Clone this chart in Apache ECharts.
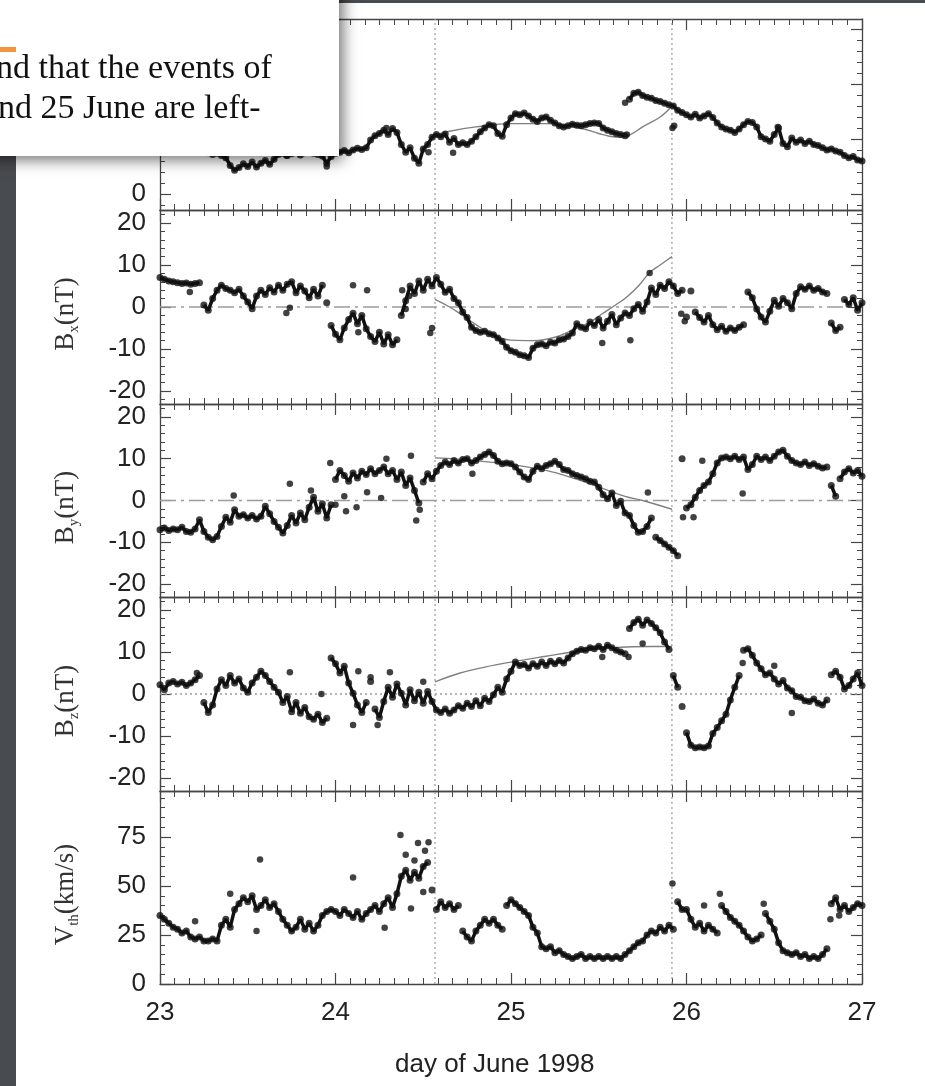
<!DOCTYPE html>
<html><head><meta charset="utf-8">
<script src="https://cdn.jsdelivr.net/npm/echarts@6/dist/echarts.min.js"></script>
<style>html,body{margin:0;padding:0;background:#fff;overflow:hidden}#c{width:925px;height:1086px}</style>
</head><body><div id="c"></div>
<script>
// sampling of the measured series: start day and cadence (days)
const T0 = 23, DT = 0.025;
const xTickLabels = [23, 24, 25, 26, 27];
const eventBounds = [24.567, 25.917];

const absB = [
 8.5, 8.8, 9.0, 8.6, 8.2, 8.4, 8.0, 7.8, 8.2, 7.6,
 7.8, 7.5, 7.2, 7.4, 7.0, 6.6, 5.2, 4.3, 4.8, 5.5,
 5.0, 5.8, 4.9, 5.6, 6.1, 5.4, 6.3, 7.2, 7.4, 7.0,
 7.3, 7.6, 7.1, 7.5, 7.8, 7.4, 7.2, 6.9, 5.6, 6.8,
 7.4, 7.6, 7.9, 7.5, 8.0, 8.3, 8.1, 8.4, 9.8, 10.6,
 11.0, 11.6, 10.8, 11.9, 11.2, 9.0, 7.6, 8.4, 6.5, 5.6,
 8.2, 9.0, 10.3, 10.8, 10.4, 10.9, 9.4, 10.1, 9.0, 9.3,
 9.0, 9.6, 10.4, 11.3, 12.0, 12.6, 12.4, 11.0, 10.5, 12.6,
 13.8, 14.6, 14.4, 14.7, 14.2, 13.6, 13.2, 13.8, 14.0, 13.4,
 12.9, 12.4, 12.2, 12.4, 12.7, 12.5, 12.4, 12.6, 12.8, 12.9,
 12.8, 12.0, 11.6, 11.3, 11.0, 10.8, 10.6, 17.2, 18.3, 18.5,
 17.9, 17.6, 17.4, 17.0, 16.8, 16.5, 16.2, 16.0, 15.2, 14.8,
 14.4, 14.0, 14.5, 13.8, 14.2, 14.6, 13.9, 12.9, 12.2, 11.8,
 11.6, 11.2, 11.8, 12.6, 13.2, 13.0, 12.2, 10.4, 10.0, 9.6,
 10.8, 12.0, 9.2, 8.6, 10.2, 9.4, 9.8, 9.2, 9.6, 9.0,
 8.8, 8.4, 8.0, 8.2, 7.8, 7.6, 7.0, 6.6, 6.8, 6.2,
 6.0];
const Bx = [
 7.0, 6.6, 6.2, 6.0, 5.8, 5.6, 5.7, 5.4, 5.6, 5.8,
 0.5, -0.8, 2.0, 4.0, 5.2, 4.4, 4.0, 3.4, 4.2, 2.6,
 1.2, -0.4, 2.6, 4.0, 3.0, 4.6, 3.6, 5.2, 4.0, 5.4,
 6.0, 3.4, 5.0, 3.8, 2.2, 4.2, 2.6, 5.2, 1.0, -4.4,
 -6.5, -7.8, -5.0, -3.0, -1.5, -4.0, -2.0, -5.2, -7.0, -8.2,
 -6.0, -8.8, -6.6, -9.0, -7.8, -2.0, 1.5, 5.0, 3.2, 6.2,
 4.0, 6.6, 5.0, 7.0, 5.4, 3.5, 4.2, 2.0, 1.0, -1.2,
 -2.5, -4.8, -5.6, -6.0, -5.8, -6.4, -6.6, -7.4, -8.2, -9.6,
 -10.4, -10.8, -11.4, -11.6, -12.0, -9.8, -9.0, -8.8, -9.2, -8.4,
 -8.6, -7.8, -7.6, -7.0, -6.2, -4.0, -4.8, -5.2, -3.6, -4.4,
 -3.0, -5.0, -3.4, -1.8, -4.2, -2.6, -1.4, -2.0, -0.4, 0.6,
 -1.0, 1.2, 4.5, 3.0, 5.2, 4.4, 6.0, 5.0, 3.2, 4.0,
 -2.4, 3.8, -1.2, -2.5, -3.6, -2.0, -4.2, -5.4, -4.6, -5.8,
 -5.0, -5.6, -4.8, -4.2, 3.6, 2.2, -0.5, -2.4, -3.6, -1.0,
 1.6, 0.2, 2.0, 1.0, -0.4, 3.2, 4.8, 4.2, 5.0, 4.0,
 4.4, 3.6, 3.2, -3.8, -5.6, -4.8, 1.8, 0.6, 2.2, -0.8,
 1.0];
const By = [
 -7.0, -6.6, -7.2, -6.8, -7.0, -6.4, -7.4, -7.6, -6.8, -4.6,
 -7.4, -8.8, -9.4, -8.6, -6.2, -4.0, -5.2, -2.2, -3.8, -3.4,
 -4.2, -3.6, -4.4, -3.8, -1.4, -3.2, -5.0, -6.4, -7.8, -6.0,
 -3.6, -5.4, -3.0, -4.6, -1.6, 0.8, -2.6, -0.8, -4.2, -1.0,
 5.0, 7.2, 6.0, 4.6, 6.6, 5.4, 7.0, 6.2, 7.6, 6.4,
 7.2, 8.0, 6.4, 7.2, 5.0, 6.8, 3.6, 5.4, 2.4, -0.6,
 4.4, 6.4, 5.2, 7.0, 8.4, 9.2, 8.6, 9.6, 9.0, 9.8,
 10.0, 9.0, 9.6, 10.4, 11.0, 11.6, 10.8, 9.4, 8.8, 9.0,
 8.8, 8.0, 6.8, 5.6, 5.0, 7.0, 8.2, 7.6, 8.4, 8.8,
 9.4, 8.6, 7.4, 7.2, 6.4, 6.0, 5.6, 5.2, 4.6, 4.4,
 3.2, 1.4, 0.4, 1.8, -1.2, -0.2, -3.0, -3.6, -6.0, -7.6,
 -7.4, -6.2, -4.2, -8.8, -9.6, -10.4, -11.2, -12.0, -13.2, 10.0,
 -1.8, -1.0, 0.8, 2.4, 3.6, 4.4, 6.4, 9.0, 10.2, 10.4,
 10.0, 10.6, 9.8, 10.4, 7.4, 8.6, 10.6, 9.8, 10.4, 9.6,
 10.6, 11.6, 12.0, 10.6, 9.6, 9.0, 8.6, 9.2, 8.4, 8.8,
 8.2, 7.8, 8.0, 3.6, 1.0, 5.2, 6.8, 7.6, 6.6, 7.2,
 5.8];
const Bz = [
 2.2, 1.0, 2.6, 3.0, 2.4, 2.8, 2.0, 2.6, 3.4, 4.4,
 -2.0, -4.4, -2.6, 1.2, 3.4, 2.0, 4.4, 2.6, 3.6, 1.4,
 0.4, 2.6, 4.0, 5.4, 4.4, 3.0, 1.6, 0.4, -2.0, -0.6,
 -4.2, -2.0, -4.6, -3.2, -5.4, -6.0, -4.8, -6.8, -5.8, 8.6,
 7.2, 5.0, 6.6, 2.6, 0.2, -2.6, -4.4, -2.0, 3.0, -3.6,
 -5.6, -1.8, 1.6, -0.8, 2.4, 0.2, -2.6, 1.0, -1.6, 0.4,
 -2.2, 0.6, -1.8, -3.8, -4.4, -3.6, -4.6, -3.8, -2.8, -3.4,
 -2.2, -3.0, -1.6, -2.8, -1.0, -1.8, -0.2, 1.6, 0.4, 3.6,
 5.4, 7.6, 6.8, 7.0, 6.2, 7.2, 6.6, 7.6, 6.8, 7.8,
 7.2, 8.0, 7.4, 8.6, 9.6, 10.2, 10.6, 10.4, 11.0, 10.8,
 11.4, 10.6, 11.6, 11.0, 10.4, 10.0, 9.6, 15.6, 17.0, 17.8,
 16.4, 17.6, 16.8, 15.8, 14.6, 12.4, 10.6, 4.4, 1.6, -3.0,
 -9.2, -12.2, -12.8, -12.6, -12.8, -12.4, -9.4, -8.0, -6.4, -4.8,
 -1.4, 1.6, 4.4, 10.4, 10.8, 9.2, 7.4, 6.0, 4.6, 5.0,
 3.6, 2.4, 3.2, 1.4, 0.8, -0.6, -0.8, -1.6, -1.8, -1.2,
 -2.2, -2.6, -1.4, 4.6, 5.4, 4.0, 1.2, 2.0, 3.6, 5.0,
 2.0];
const Vth = [
 35, 33, 31, 29, 28, 26, 27, 24, 23, 24,
 22, 22, 23, 22, 30, 33, 29, 38, 41, 44,
 42, 45, 38, 40, 43, 39, 41, 37, 33, 30,
 27, 29, 33, 28, 31, 27, 30, 35, 37, 38,
 37, 35, 38, 36, 34, 37, 33, 36, 38, 40,
 37, 41, 44, 39, 46, 55, 58, 53, 57, 54,
 60, 62, 48, 38, 42, 39, 41, 38, 40, 27,
 24, 22, 27, 30, 33, 31, 33, 30, 28, 40,
 43, 41, 39, 37, 35, 29, 26, 19, 18, 19,
 16, 17, 15, 14, 13, 14, 15, 13, 14, 13,
 14, 13, 14, 13, 14, 13, 15, 17, 19, 21,
 22, 25, 27, 26, 29, 27, 30, 28, 42, 38,
 38, 33, 29, 31, 27, 30, 28, 26, 40, 37,
 34, 32, 30, 27, 24, 22, 23, 25, 36, 32,
 28, 21, 17, 16, 15, 16, 14, 15, 13, 14,
 13, 15, 18, 41, 44, 38, 40, 37, 39, 41,
 40];

// isolated points off the main trace [day, value]
const extraB = [[23.72,7.0],[23.95,5.0],[24.29,12.0],[24.53,7.6],[24.67,7.5],[25.66,10.8],[25.65,16.6],[25.92,12.0],[25.93,12.4],[26.52,12.2]];
const extraBx = [[23.17,3.6],[23.72,-1.4],[23.74,-0.2],[24.1,5.2],[24.18,4.0],[24.13,-6.0],[24.38,4.0],[24.4,-0.5],[24.42,2.6],[24.54,-6.2],[24.55,-5.0],[25.52,-8.6],[25.68,-7.9],[25.79,8.1],[25.97,-1.6],[25.99,-3.4]];
const extraBy = [[23.42,1.2],[23.74,4.0],[23.86,2.4],[23.97,9.0],[24.0,-1.0],[24.05,1.0],[24.06,-2.6],[24.12,-1.6],[24.18,2.0],[24.26,0.6],[24.29,10.0],[24.43,10.7],[24.46,-4.8],[24.48,-2.2],[24.78,6.4],[25.78,1.9],[25.98,-4.0],[26.04,-4.0],[26.09,9.5],[26.32,1.7]];
const extraBz = [[23.21,5.0],[23.74,5.2],[23.92,0.0],[24.1,-7.4],[24.24,-7.4],[24.13,5.4],[24.31,5.2],[24.2,4.0],[24.5,2.9],[25.52,8.8],[25.67,8.8],[25.75,12.0],[26.32,7.4],[26.5,6.7],[26.6,-4.5]];
const extraV = [[23.2,32],[23.4,46],[23.55,27],[23.57,63.6],[24.1,54.4],[24.28,28.7],[24.37,76],[24.47,71.9],[24.53,72.4],[24.43,38.5],[24.4,66],[24.45,63],[24.5,47],[24.51,68],[25.92,51.3],[26.1,40],[26.19,46],[26.44,41],[26.82,33],[26.87,35]];

// fitted model curves [day, value]
const fitB = [[24.567,10.7],[24.65,11.4],[24.8,12.2],[25.0,12.8],[25.2,12.8],[25.39,12.0],[25.5,11.0],[25.56,10.5],[25.62,10.3],[25.68,10.8],[25.75,12.2],[25.85,14.0],[25.917,16.0]];
const fitBx = [[24.567,1.8],[24.65,0.0],[24.71,-1.6],[24.8,-4.2],[24.9,-6.6],[25.0,-7.9],[25.13,-8.0],[25.25,-7.2],[25.35,-5.5],[25.45,-3.6],[25.52,-1.6],[25.6,0.6],[25.66,2.4],[25.73,5.2],[25.79,8.2],[25.85,10.0],[25.917,12.0]];
const fitBy = [[24.567,10.2],[24.7,9.9],[24.85,9.3],[25.0,8.6],[25.2,7.2],[25.35,5.4],[25.52,2.9],[25.65,1.0],[25.75,0.0],[25.917,-2.1]];
const fitBz = [[24.567,2.9],[24.71,5.0],[24.85,6.4],[25.0,7.6],[25.2,9.0],[25.35,10.0],[25.5,10.7],[25.66,11.2],[25.8,11.3],[25.917,11.3]];

const yLabelsB = [0, 10, 20, 30];
const yLabelsField = [-20, -10, 0, 10, 20];
const yLabelsV = [0, 25, 50, 75];

function steps(a, b, s) { const r = []; for (let v = a; v <= b + 1e-9; v += s) r.push(v); return r; }

const panels = [
  { vals: absB, extra: extraB, fit: fitB, min: -2.9, max: 31.8, major: yLabelsB, minor: steps(-2, 30, 2), zero: null, name: '', jump: 3 },
  { vals: Bx, extra: extraBx, fit: fitBx, min: -23.1, max: 23.1, major: yLabelsField, minor: steps(-22, 22, 2), zero: 'dashdot', name: '{a|B}{s|x}{a|(nT)}', jump: 4 },
  { vals: By, extra: extraBy, fit: fitBy, min: -23.1, max: 23.1, major: yLabelsField, minor: steps(-22, 22, 2), zero: 'dashdot', name: '{a|B}{s|y}{a|(nT)}', jump: 4 },
  { vals: Bz, extra: extraBz, fit: fitBz, min: -23.1, max: 23.1, major: yLabelsField, minor: steps(-22, 22, 2), zero: 'dot', name: '{a|B}{s|z}{a|(nT)}', jump: 4 },
  { vals: Vth, extra: extraV, fit: null, min: 0, max: 98.5, major: yLabelsV, minor: steps(0, 95, 5), zero: null, name: '{a|V}{s|th}{a|(km/s)}', jump: 9 }
];
const gridPos = [[19,191],[210,194],[404,193],[597,194],[791,193]];

const AX = '#454545';
const SANS = 'Liberation Sans, Arial, sans-serif';
const SERIF = 'Liberation Serif, Times New Roman, serif';
const grid = [], xAxis = [], yAxis = [], series = [];

panels.forEach((p, k) => {
  grid.push({ left: 160, width: 702, top: gridPos[k][0], height: gridPos[k][1] });
  ['bottom', 'top'].forEach(pos => {
    xAxis.push({
      type: 'value', gridIndex: k, position: pos, min: 23, max: 27, interval: 1,
      axisLine: { show: true, onZero: false, lineStyle: { color: AX, width: 1.3 } },
      axisTick: { show: true, inside: true, length: 11, lineStyle: { color: AX, width: 1.2 } },
      minorTick: { show: true, splitNumber: 12, length: 6, lineStyle: { color: AX, width: 1 } },
      axisLabel: { show: (k === 4 && pos === 'bottom'), customValues: xTickLabels, fontSize: 26, color: '#222', fontFamily: SANS, margin: 16 },
      splitLine: { show: false }, minorSplitLine: { show: false }
    });
  });
  ['left', 'right'].forEach(pos => {
    yAxis.push({
      type: 'value', gridIndex: k, position: pos, min: p.min, max: p.max,
      axisLine: { show: true, onZero: false, lineStyle: { color: AX, width: 1.3 } },
      axisTick: { show: true, inside: true, length: 11, customValues: p.major, lineStyle: { color: AX, width: 1.2 } },
      axisLabel: { show: pos === 'left', customValues: p.major, fontSize: 26, color: '#222', fontFamily: SANS, margin: 14 },
      splitLine: { show: false },
      name: pos === 'left' ? p.name : '', nameLocation: 'middle', nameRotate: 90, nameGap: 78,
      nameTextStyle: { color: '#333', fontFamily: SERIF, padding: [0, 14, 0, 0], rich: {
        a: { fontSize: 27, fontFamily: SERIF, color: '#333', lineHeight: 32 },
        s: { fontSize: 15, fontFamily: SERIF, color: '#333', verticalAlign: 'bottom', lineHeight: 14 } } }
    });
    yAxis.push({
      type: 'value', gridIndex: k, position: pos, min: p.min, max: p.max,
      axisLine: { show: false },
      axisTick: { show: true, inside: true, length: 5, customValues: p.minor, lineStyle: { color: AX, width: 1 } },
      axisLabel: { show: false }, splitLine: { show: false }
    });
  });
  const xi = 2 * k, yi = 4 * k;
  eventBounds.forEach(xb => series.push({
    type: 'line', xAxisIndex: xi, yAxisIndex: yi, data: [[xb, p.min], [xb, p.max]], showSymbol: false, silent: true, z: 1,
    lineStyle: { color: '#9a9a9a', width: 1.2, type: [2, 3] }
  }));
  if (p.zero) series.push({
    type: 'line', xAxisIndex: xi, yAxisIndex: yi, data: [[23, 0], [27, 0]], showSymbol: false, silent: true, z: 1,
    lineStyle: { color: '#9c9c9c', width: 1.4, type: p.zero === 'dot' ? [2, 3] : [16, 5, 3, 5] }
  });
  const pts = p.vals.map((v, i) => [T0 + i * DT, v]);
  // chain joining consecutive samples, broken at large jumps
  const chain = [];
  pts.forEach((q, i) => {
    if (i > 0 && Math.abs(q[1] - pts[i - 1][1]) > p.jump) chain.push([q[0] - DT / 2, '-']);
    chain.push(q);
  });
  series.push({
    type: 'line', xAxisIndex: xi, yAxisIndex: yi, data: chain, showSymbol: false, connectNulls: false, z: 3,
    lineStyle: { color: '#111', width: 3.5 }
  });
  series.push({
    type: 'scatter', xAxisIndex: xi, yAxisIndex: yi, symbolSize: 7, z: 3,
    itemStyle: { color: '#111' }, data: pts
  });
  series.push({
    type: 'scatter', xAxisIndex: xi, yAxisIndex: yi, symbolSize: 6.5, z: 3,
    itemStyle: { color: '#111' }, data: p.extra
  });
  if (p.fit) series.push({
    type: 'line', xAxisIndex: xi, yAxisIndex: yi, data: p.fit, smooth: 0.4, showSymbol: false, z: 2,
    lineStyle: { color: '#808080', width: 1.4 }
  });
});

const chart = echarts.init(document.getElementById('c'), null, { renderer: 'canvas' });
chart.setOption({
  animation: false, backgroundColor: '#fff',
  textStyle: { fontFamily: SANS },
  grid, xAxis, yAxis, series,
  graphic: [
    { type: 'text', x: 395, y: 1065, style: { text: 'day of June 1998', font: '26px ' + SANS, fill: '#222', verticalAlign: 'middle' } },
    { type: 'rect', zlevel: 1, z: 100, shape: { x: 0, y: 150, width: 16, height: 940 }, style: { fill: '#484b4f' } },
    { type: 'rect', zlevel: 1, z: 100, shape: { x: 339, y: 0, width: 600, height: 3 }, style: { fill: '#484b4f' } },
    { type: 'rect', zlevel: 1, z: 101, shape: { x: -20, y: -20, width: 359, height: 176 },
      style: { fill: '#fff', shadowBlur: 14, shadowColor: 'rgba(0,0,0,0.55)', shadowOffsetX: 4, shadowOffsetY: 4 } },
    { type: 'rect', zlevel: 1, z: 102, shape: { x: 0, y: 47, width: 16, height: 5 }, style: { fill: '#f39443' } },
    { type: 'text', zlevel: 1, z: 103, x: -19, y: 69, style: { text: 'and that the events of', font: '34px ' + SERIF, fill: '#111', verticalAlign: 'middle' } },
    { type: 'text', zlevel: 1, z: 103, x: -17, y: 109, style: { text: 'and 25 June are left-', font: '34px ' + SERIF, fill: '#111', verticalAlign: 'middle' } }
  ]
});
</script></body></html>
